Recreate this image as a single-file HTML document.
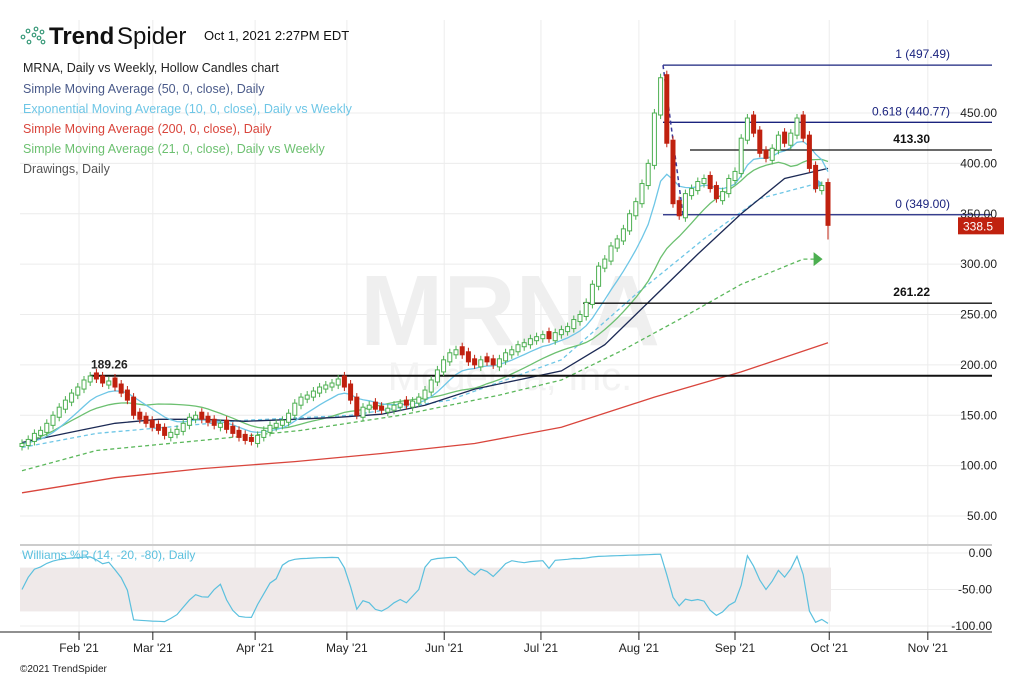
<!DOCTYPE html>
<html><head><meta charset="utf-8"><style>
body{margin:0;width:1023px;height:678px;background:#fff;font-family:"Liberation Sans",sans-serif;overflow:hidden}
svg text{font-family:"Liberation Sans",sans-serif}
</style></head><body>
<svg id="c" width="1023" height="678" xmlns="http://www.w3.org/2000/svg"></svg>
<script>
// ---- data ----
const closes=[122,126,132,135,142,150,158,165,172,178,
185,189,186,182,184,178,172,165,150,146,
142,138,135,130,133,136,142,148,150,146,
143,140,142,136,132,128,125,124,130,135,
140,142,145,152,162,168,170,174,178,180,
182,186,178,165,150,158,160,156,155,157,
160,162,160,164,168,175,185,195,205,212,
215,210,203,200,205,203,200,206,212,215,
220,222,226,228,230,226,232,235,238,245,
250,262,280,298,305,318,325,335,350,362,
380,400,450,485,420,360,348,370,375,382,
385,375,365,372,385,392,425,445,430,410,
405,415,428,420,430,445,425,395,375,378,
338.5];
const sma200Idx=[0,15,29,44,58,73,87,102,116,130];
const sma200Val=[73,88,97,104,112,122,138,168,193,222];
const sma50Idx=[0,7,15,22,29,36,44,51,58,65,73,80,87,94,102,109,116,123,130];
const sma50Val=[123,132,142,146,146,144,146,148,151,160,176,185,194,220,268,310,350,385,395];
const wEmaIdx=[0,12,36,53,69,87,99,110,119,127,128];
const wEmaVal=[118,132,145,150,165,205,270,325,365,378,380];
const wSmaIdx=[0,12,29,45,61,77,87,97,106,116,126,128];
const wSmaVal=[95,115,125,135,150,170,185,215,245,280,305,305];
const priceTicks=[450,400,350,300,250,200,150,100,50];
const wrTicks=[0,-50,-100];
const monthLabels=["Feb '21","Mar '21","Apr '21","May '21","Jun '21","Jul '21","Aug '21","Sep '21","Oct '21","Nov '21"];
const monthIdx=[9.2,21.1,37.6,52.4,68.1,83.7,99.5,115,130.2,146.1];
const levels=[{p:497.49,t:"1 (497.49)",c:"#1a237e",x0:663,bold:false},{p:440.77,t:"0.618 (440.77)",c:"#1a237e",x0:663,bold:false},{p:413.30,t:"413.30",c:"#111",x0:690,bold:true},{p:349.00,t:"0 (349.00)",c:"#1a237e",x0:663,bold:false},{p:261.22,t:"261.22",c:"#111",x0:583,bold:true},{p:189.26,t:"189.26",c:"#111",x0:90,bold:true}];
// ---- scales ----
const X=i=>22+6.2*i, Y=p=>516-(p-50)*1.0075, WY=v=>553-v*0.73;
const svg=document.getElementById('c'),NS="http://www.w3.org/2000/svg";
function mk(t,a,parent){const e=document.createElementNS(NS,t);for(const k in a)e.setAttribute(k,a[k]);(parent||svg).appendChild(e);return e;}
function txt(s,a){const e=mk('text',a);e.textContent=s;return e;}
// grid
for(let k=0;k<monthIdx.length;k++){const x=X(monthIdx[k]);const g=mk('line',{x1:x,x2:x,y1:20,y2:632,stroke:"#ececec"});}
priceTicks.forEach(p=>{const g=mk('line',{x1:20,x2:992,y1:Y(p),y2:Y(p),stroke:"#ececec"});});
wrTicks.forEach(v=>{mk('line',{x1:20,x2:992,y1:WY(v),y2:WY(v),stroke:"#ececec"});});
// watermark
const wm=txt("MRNA",{x:510,y:345,"font-size":100,"font-weight":"bold",fill:"#efefef","text-anchor":"middle"});
txt("Moderna, Inc.",{x:510,y:390,"font-size":40,fill:"#f3f3f3","text-anchor":"middle"});
// MA helpers
function poly(idx,val,st,dash,w){let d=idx.map((i,k)=>(k?"L":"M")+X(i).toFixed(1)+","+Y(val[k]).toFixed(1)).join("");const p=mk('path',{d:d,fill:"none",stroke:st,"stroke-width":w||1.3});if(dash)p.setAttribute('stroke-dasharray',dash);return p;}
const all=closes.map((_,i)=>i);
let ema=[],e=closes[0];closes.forEach((c,i)=>{e=i?e+(c-e)*2/11:c;ema.push(e);});
let s21=closes.map((c,i)=>{const a=closes.slice(Math.max(0,i-20),i+1);return a.reduce((s,v)=>s+v,0)/a.length;});
let p1=poly(sma200Idx,sma200Val,"#d9453c");
let p2=poly(wSmaIdx,wSmaVal,"#5cb85c","4,3");
let p3=poly(wEmaIdx,wEmaVal,"#6ec6e6","4,3");
let p4=poly(all,s21,"#6cc070");
let p5=poly(sma50Idx,sma50Val,"#1c2a55");
let p6=poly(all,ema,"#6ec6e6");
// arrows
mk('path',{d:`M${X(128)-2},${Y(380)-7}l9,7l-9,7z`,fill:"#5bb8dc"});
mk('path',{d:`M${X(128)-2},${Y(305)-7}l9,7l-9,7z`,fill:"#4caf50"});
// levels
levels.forEach(l=>{const y=Y(l.p);const ln=mk('line',{x1:l.x0,x2:992,y1:y,y2:y,stroke:l.c,"stroke-width":l.bold&&l.p<200?2:1.3});
 if(l.p<200)txt(l.t,{x:91,y:y-7,"font-size":12,"font-weight":"bold",fill:"#222"});
 else txt(l.t,{x:l.bold?930:950,y:y-7,"font-size":12,"font-weight":l.bold?"bold":"normal",fill:l.c,"text-anchor":"end"});});
mk('line',{x1:663,y1:Y(497.49),x2:683,y2:Y(349),stroke:"#3a3a9a","stroke-width":1.5,"stroke-dasharray":"4,3"});
// candles
closes.forEach((c,i)=>{const o=i?closes[i-1]+(c>=closes[i-1]?-2:3):c-3;const up=c>=o;const last=i==closes.length-1;const hi=Math.max(o,c)+4,lo=Math.min(o,c)-(last?14:4);const x=X(i);
 const col=up?"#4caf50":"#c0210f";
 mk('line',{x1:x,x2:x,y1:Y(hi),y2:Y(lo),stroke:col,"stroke-width":1});
 const r=mk('rect',{x:x-2,y:Y(Math.max(o,c)),width:4,height:Math.max(1,Math.abs(Y(o)-Y(c))),fill:up?"#fff":col,stroke:col,"stroke-width":1});
 });
// right axis
priceTicks.forEach(p=>{const t=txt(p.toFixed(2),{x:997,y:Y(p)+4,"font-size":12,fill:"#222","text-anchor":"end"});});
const lastC=closes[closes.length-1],lastY=Y(lastC);
mk('rect',{x:958,y:lastY-8,width:46,height:17,fill:"#c0210f"});
const lt=txt(lastC.toFixed(1),{x:963,y:lastY+5,"font-size":12,fill:"#fff"});
// williams panel
mk('line',{x1:20,x2:992,y1:545,y2:545,stroke:"#ccc","stroke-width":2});
mk('rect',{x:20,y:WY(-20),width:X(closes.length-1)+3-20,height:WY(-80)-WY(-20),fill:"#efe9e9"});
let wr=closes.map((c,i)=>{const a=closes.slice(Math.max(0,i-13),i+1);const hh=Math.max(...a)+4,ll=Math.min(...a)-4;return (hh-c)/(hh-ll)*-100;});
const wd=wr.map((v,i)=>(i?"L":"M")+X(i).toFixed(1)+","+WY(v).toFixed(1)).join("");
const wl=mk('path',{d:wd,fill:"none",stroke:"#5bc0de","stroke-width":1.2});
wrTicks.forEach(v=>{txt(v.toFixed(2),{x:992,y:WY(v)+4,"font-size":12,fill:"#222","text-anchor":"end"});});
txt("Williams %R (14, -20, -80), Daily",{x:22,y:559,"font-size":12,fill:"#5bc0de"});
// x axis
mk('line',{x1:0,x2:992,y1:632,y2:632,stroke:"#222"});
monthLabels.forEach((m,k)=>{const x=X(monthIdx[k]);mk('line',{x1:x,x2:x,y1:632,y2:640,stroke:"#222"});const t=txt(m,{x:x,y:652,"font-size":12,fill:"#222","text-anchor":"middle"});});
txt("©2021 TrendSpider",{x:20,y:672,"font-size":10,fill:"#222"});
// header
const lg=mk('g',{});
[[23,37],[28,31],[29,42],[34,35],[36,29],[39,38],[43,42],[42,32]].forEach(p=>mk('circle',{cx:p[0],cy:p[1],r:1.8,fill:"none",stroke:"#3a9a7a","stroke-width":1.2},lg));
txt("Trend",{x:49,y:44,"font-size":24,"font-weight":"bold",fill:"#111"});
txt("Spider",{x:117,y:44,"font-size":24,fill:"#111"});
txt("Oct 1, 2021 2:27PM EDT",{x:204,y:40,"font-size":13,fill:"#111"});
const leg=[["MRNA, Daily vs Weekly, Hollow Candles chart","#222"],["Simple Moving Average (50, 0, close), Daily","#4a5a8a"],["Exponential Moving Average (10, 0, close), Daily vs Weekly","#6ec6e6"],["Simple Moving Average (200, 0, close), Daily","#d9453c"],["Simple Moving Average (21, 0, close), Daily vs Weekly","#6cc070"],["Drawings, Daily","#555"]];
leg.forEach((l,k)=>{const t=txt(l[0],{x:23,y:72+k*20+(k?1:0),"font-size":12.5,fill:l[1]});});
</script>
</body></html>
